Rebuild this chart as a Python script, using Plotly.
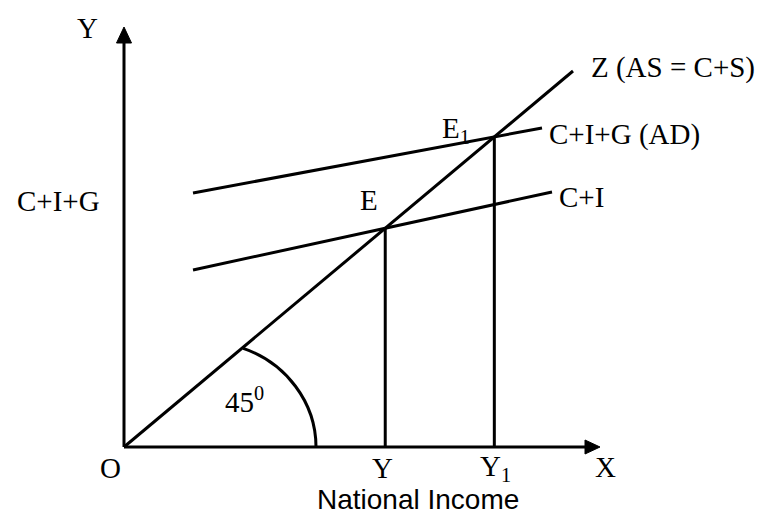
import plotly.graph_objects as go

# Diagram data (units: origin O at (0,0), x = income, y = expenditure)
z_line = {"x": [0, 449], "y": [0, 376]}            # Z (AS = C+S) 45-degree line
ci_line = {"x": [69, 428], "y": [177, 255]}         # C+I
cig_line = {"x": [69, 418], "y": [254, 319]}        # C+I+G (AD)
x_axis_end = 476
y_axis_end = 420

SERIF = "Liberation Serif, Times New Roman, serif"
SANS = "Liberation Sans, Arial, sans-serif"
FS = 29
LW = 3


def intersect(l1, l2):
    (x1, x2), (y1, y2) = l1["x"], l1["y"]
    (x3, x4), (y3, y4) = l2["x"], l2["y"]
    m1 = (y2 - y1) / (x2 - x1)
    m2 = (y4 - y3) / (x4 - x3)
    x = (y3 - y1 + m1 * x1 - m2 * x3) / (m1 - m2)
    return x, y1 + m1 * (x - x1)


E = intersect(z_line, ci_line)
E1 = intersect(z_line, cig_line)

fig = go.Figure()
line_style = dict(color="black", width=LW)
for ln in (z_line, ci_line, cig_line):
    fig.add_trace(go.Scatter(x=ln["x"], y=ln["y"], mode="lines", line=line_style, hoverinfo="skip"))
for pt in (E, E1):
    fig.add_trace(go.Scatter(x=[pt[0], pt[0]], y=[0, pt[1]], mode="lines", line=line_style, hoverinfo="skip"))
# axes
fig.add_trace(go.Scatter(x=[0, x_axis_end - 12], y=[0, 0], mode="lines", line=line_style, hoverinfo="skip"))
fig.add_trace(go.Scatter(x=[0, 0], y=[0, y_axis_end - 12], mode="lines", line=line_style, hoverinfo="skip"))

shapes = [
    # arrow heads
    dict(type="path", path=f"M {x_axis_end},0 L {x_axis_end-15},7 L {x_axis_end-15},-7 Z",
         fillcolor="black", line=dict(color="black", width=1)),
    dict(type="path", path=f"M 0,{y_axis_end} L -7.5,{y_axis_end-16} L 7.5,{y_axis_end-16} Z",
         fillcolor="black", line=dict(color="black", width=1)),
    # 45 degree arc
    dict(type="path", path="M 119.2,98.6 C 161.5,84.4 192,44.7 192,0",
         line=dict(color="black", width=LW)),
]

def txt(x, y, t, xanchor="center", font=SERIF, size=FS):
    return dict(x=x, y=y, text=t, showarrow=False, xanchor=xanchor, yanchor="middle",
                font=dict(family=font, size=size, color="black"))

annotations = [
    txt(-37, 419, "Y"),
    txt(-14, -21, "O"),
    txt(258, -21, "Y"),
    txt(354, -21, "Y<sub>1</sub>", xanchor="left"),
    txt(481, -20, "X"),
    txt(294, -52, "National Income", font=SANS, size=28),
    txt(-22, 246, "C+I+G", xanchor="right"),
    txt(245, 247, "E"),
    txt(316, 317, "E<sub>1</sub>", xanchor="left"),
    txt(465, 380, "Z (AS = C+S)", xanchor="left"),
    txt(423, 313, "C+I+G (AD)", xanchor="left"),
    txt(433, 250, "C+I", xanchor="left"),
    txt(99, 47, "45<sup>0</sup>", xanchor="left"),
]

fig.update_layout(
    width=767, height=513,
    margin=dict(l=0, r=0, t=0, b=0),
    paper_bgcolor="white", plot_bgcolor="white",
    showlegend=False,
    xaxis=dict(range=[-124, 643], visible=False, fixedrange=True),
    yaxis=dict(range=[-66, 447], visible=False, fixedrange=True),
    shapes=shapes,
    annotations=annotations,
)

fig.write_html("out.html", post_script="document.body.style.margin='0';", config={"displayModeBar": False})
